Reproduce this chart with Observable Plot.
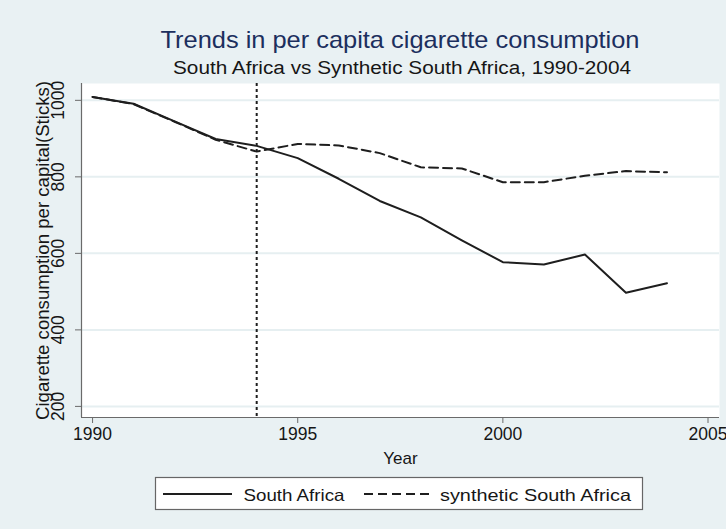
<!DOCTYPE html>
<html>
<head>
<meta charset="utf-8">
<script src="https://cdn.jsdelivr.net/npm/d3@7"></script>
<script src="https://cdn.jsdelivr.net/npm/@observablehq/plot@0.6"></script>
<style>
  html, body { margin: 0; padding: 0; }
  body { width: 726px; height: 529px; overflow: hidden; }
  #page { position: relative; width: 726px; height: 529px; background: #e9f1f3; font-family: "Liberation Sans", Arial, sans-serif; }
  #chart { position: absolute; left: 0; top: 80px; }
  #overlay { position: absolute; left: 0; top: 0; }
</style>
</head>
<body>
<div id="page">
  <div id="chart"></div>
  <svg id="overlay" width="726" height="529"></svg>
</div>
<script>
// ---- data ----
const years = [1990, 1991, 1992, 1993, 1994, 1995, 1996, 1997, 1998, 1999, 2000, 2001, 2002, 2003, 2004];
const southAfrica = [1009, 991, 945, 899, 881, 849, 795, 737, 694, 634, 577, 571, 597, 497, 522];
const syntheticSouthAfrica = [1009, 990, 944, 897, 866, 886, 882, 862, 825, 822, 786, 786, 803, 815, 812];
const xTicks = [1990, 1995, 2000, 2005];
const yTicks = [200, 400, 600, 800, 1000];
const xDomain = [1989.73, 2005.28];
const yDomain = [171, 1044];
const treatmentYear = [1994];
const seriesNames = ["South Africa", "synthetic South Africa"];
const titleText = "Trends in per capita cigarette consumption";
const subtitleText = "South Africa vs Synthetic South Africa, 1990-2004";
const xLabel = "Year";
const yLabel = "Cigarette consumption per capital(Sticks)";

const rows = years.flatMap((yr, i) => [
  {year: yr, value: southAfrica[i], series: seriesNames[0]},
  {year: yr, value: syntheticSouthAfrica[i], series: seriesNames[1]}
]);

const FONT = "'Liberation Sans', Arial, sans-serif";
const axisColor = "#6a6a6a";
const lineColor = "#1e1e1e";
const textColor = "#161616";

const chart = Plot.plot({
  width: 726,
  height: 390,
  marginTop: 3,
  marginBottom: 53,
  marginLeft: 81,
  marginRight: 7,
  style: {background: "transparent", fontFamily: FONT, color: textColor, overflow: "visible"},
  x: {domain: xDomain},
  y: {domain: yDomain},
  marks: [
    Plot.frame({fill: "white", stroke: null}),
    Plot.gridY(yTicks, {stroke: "#e6eff1", strokeOpacity: 1, strokeWidth: 2}),
    Plot.ruleX(treatmentYear, {stroke: lineColor, strokeWidth: 2, strokeDasharray: "3,3"}),
    Plot.line(rows.filter(d => d.series === seriesNames[1]), {x: "year", y: "value", stroke: lineColor, strokeWidth: 2, strokeDasharray: "9,5"}),
    Plot.line(rows.filter(d => d.series === seriesNames[0]), {x: "year", y: "value", stroke: lineColor, strokeWidth: 2}),
    Plot.ruleX([xDomain[0]], {stroke: axisColor, strokeWidth: 1.2}),
    Plot.ruleY([yDomain[0]], {stroke: axisColor, strokeWidth: 1.2}),
    Plot.axisY(yTicks, {tickRotate: -90, tickSize: 6, tickPadding: 12, fontSize: 17.5, stroke: axisColor, fill: textColor, label: null, tickFormat: d => String(d)}),
    Plot.axisX(xTicks, {tickSize: 6, tickPadding: 4, fontSize: 17.5, stroke: axisColor, fill: textColor, label: null, tickFormat: d => String(d)}),
    Plot.text([xLabel], {frameAnchor: "bottom", dy: 46, fontSize: 17, lineAnchor: "bottom", fill: textColor}),
    Plot.text([yLabel], {frameAnchor: "left", textAnchor: "middle", dx: -33, rotate: -90, fontSize: 18, lineAnchor: "bottom", fill: textColor})
  ]
});
document.getElementById("chart").appendChild(chart);
// fit the y-axis title to the reference's length
d3.select(chart).selectAll("text").filter(function() { return this.textContent === yLabel; })
  .attr("textLength", 339).attr("lengthAdjust", "spacingAndGlyphs");

// ---- titles and legend ----
const ov = d3.select("#overlay");
ov.append("text").attr("x", 400).attr("y", 48.3).attr("text-anchor", "middle")
  .attr("font-family", FONT).attr("font-size", 24).attr("fill", "#1c2f5e")
  .attr("textLength", 479).attr("lengthAdjust", "spacingAndGlyphs").text(titleText);
ov.append("text").attr("x", 402).attr("y", 74.3).attr("text-anchor", "middle")
  .attr("font-family", FONT).attr("font-size", 17.6).attr("fill", textColor)
  .attr("textLength", 458).attr("lengthAdjust", "spacingAndGlyphs").text(subtitleText);

ov.append("rect").attr("x", 155.5).attr("y", 477.5).attr("width", 487).attr("height", 32)
  .attr("fill", "white").attr("stroke", "#666").attr("stroke-width", 1.2);
const legendItems = [
  {name: seriesNames[0], x1: 163, x2: 232, tx: 243.5, len: 101, dash: null},
  {name: seriesNames[1], x1: 364, x2: 432, tx: 440, len: 191, dash: "9,5"}
];
legendItems.forEach(it => {
  ov.append("line").attr("x1", it.x1).attr("x2", it.x2).attr("y1", 494).attr("y2", 494)
    .attr("stroke", lineColor).attr("stroke-width", 2).attr("stroke-dasharray", it.dash);
  ov.append("text").attr("x", it.tx).attr("y", 500.5).attr("font-size", 16.5)
    .attr("font-family", FONT).attr("fill", textColor)
    .attr("textLength", it.len).attr("lengthAdjust", "spacingAndGlyphs").text(it.name);
});
</script>
</body>
</html>
